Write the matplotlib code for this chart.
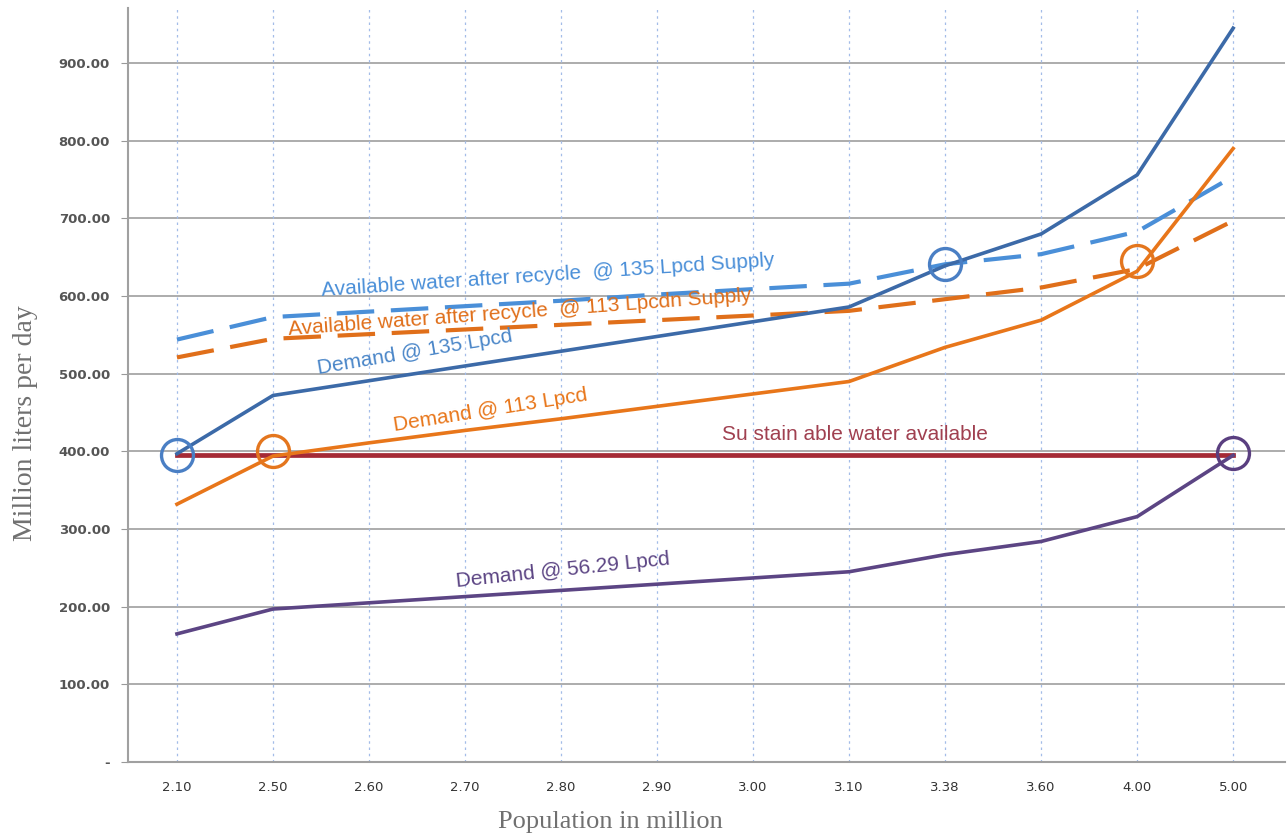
import matplotlib.pyplot as plt

# Data
population = ["2.10", "2.50", "2.60", "2.70", "2.80", "2.90", "3.00", "3.10", "3.38", "3.60", "4.00", "5.00"]
demand_135 = [397, 472, 491, 510, 529, 548, 567, 586, 639, 680, 756, 945]
demand_113 = [332, 394, 411, 427, 442, 458, 474, 490, 534, 569, 632, 790]
demand_56 = [165, 197, 205, 213, 221, 229, 237, 245, 267, 284, 316, 395]
sustainable = [395] * len(population)
avail_135 = [544, 573, 580, 587, 594, 602, 609, 616, 641, 654, 683, 754]
avail_113 = [521, 545, 551, 557, 563, 569, 575, 581, 596, 611, 635, 697]

# crossing points marked with circles: (category index, value, colour)
crossings = [(0, 395, "#4a7fc4"), (1, 400, "#e4761e"), (8, 641, "#4a7fc4"),
             (10, 645, "#e4761e"), (11, 398, "#5a3f80")]

yticks = [0, 100, 200, 300, 400, 500, 600, 700, 800, 900]
ytick_labels = ["-"] + [f"{v:.2f}" for v in yticks[1:]]

x = list(range(len(population)))

fig = plt.figure(figsize=(12.88, 8.35), dpi=100)
ax = fig.add_axes([128 / 1288, 73 / 835, 1157 / 1288, 754 / 835])

# grid
for v in yticks[1:]:
    ax.axhline(v, color="#a6a6a6", lw=1.3, zorder=1)
for xi in x:
    ax.axvline(xi, color="#a3bce8", lw=0.9, dashes=(2, 3), zorder=1)

ax.plot(x, sustainable, color="#a52a35", lw=3.4, zorder=3)
ax.plot(x, avail_135, color="#4a8fd8", lw=3.0, dashes=(9, 4), zorder=3)
ax.plot(x, avail_113, color="#e06f1a", lw=3.0, dashes=(9, 4), zorder=3)
ax.plot(x, demand_135, color="#3c6aa8", lw=2.6, zorder=4)
ax.plot(x, demand_113, color="#e8761a", lw=2.6, zorder=4)
ax.plot(x, demand_56, color="#5c4584", lw=2.6, zorder=4)

for xi, yv, c in crossings:
    ax.plot(xi, yv, marker="o", ms=23, mfc="none", mec=c, mew=2.4, zorder=5)

# labels on the lines
lab = dict(fontsize=15, family="Liberation Sans", ha="center", va="center", zorder=6)
ax.text(3.86, 626, "Available water after recycle  @ 135 Lpcd Supply", color="#4a8fd8",
        rotation=3.8, **lab)
ax.text(3.57, 579, "Available water after recycle  @ 113 Lpcdn Supply", color="#e06f1a",
        rotation=4.2, **lab)
ax.text(2.48, 528, "Demand @ 135 Lpcd", color="#4a86c8", rotation=9.5, **lab)
ax.text(3.26, 453, "Demand @ 113 Lpcd", color="#e8761a", rotation=9, **lab)
ax.text(7.06, 422, "Su stain able water available", color="#a04050", **lab)
ax.text(4.02, 247, "Demand @ 56.29 Lpcd", color="#5c4584", rotation=6, **lab)

ax.set_xlim(-0.51, 11.54)
ax.set_ylim(0, 971)
ax.set_xticks(x)
ax.set_xticklabels(population, fontsize=9.5, color="#333333")
ax.set_yticks(yticks)
ax.set_yticklabels(ytick_labels, fontsize=9.5, color="#555555", fontweight="bold")
ax.tick_params(axis="y", length=5, color="#999999", pad=8)
ax.tick_params(axis="x", length=0, pad=14)

for side in ["top", "right"]:
    ax.spines[side].set_visible(False)
for side in ["left", "bottom"]:
    ax.spines[side].set_color("#a0a0a0")
    ax.spines[side].set_linewidth(1.5)

ax.set_ylabel("Million liters per day", fontsize=20, color="#707070", family="Liberation Serif")
ax.yaxis.set_label_coords(-0.078, 0.45)
fig.text(610 / 1288, 1 - 822 / 835, "Population in million", fontsize=19, color="#707070",
         family="Liberation Serif", ha="center", va="center")

fig.savefig("out.png", dpi=100)
